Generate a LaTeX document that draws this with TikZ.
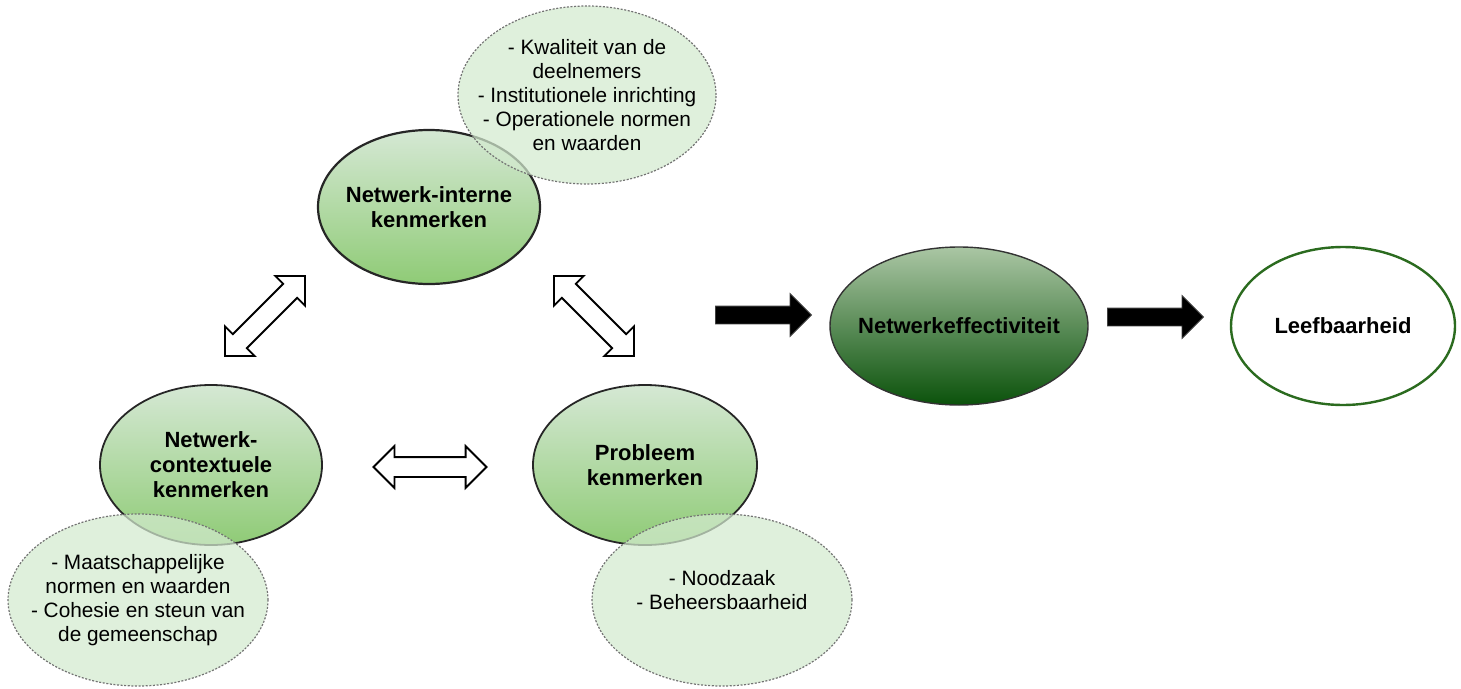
\documentclass[tikz,border=0pt]{standalone}
\usepackage{fontspec}
\setmainfont{Liberation Sans}
\usetikzlibrary{shapes.geometric,shapes.arrows}
\definecolor{kentop}{HTML}{D5E8D4}
\definecolor{kenbot}{HTML}{8FCB76}
\definecolor{efftop}{HTML}{AAC6A4}
\definecolor{effbot}{HTML}{0B520B}
\definecolor{leefline}{HTML}{2B6B1F}
\definecolor{detfill}{HTML}{D3EACF}

\begin{document}
\begin{tikzpicture}
    [
      x=1pt, y=-1pt,
      kenmerk/.style={ellipse, draw=black!85, line width=1.8pt, top color=kentop, bottom color=kenbot, inner sep=0pt},
      detail/.style={ellipse, draw=black!55, dash pattern=on 2pt off 1.6pt, line width=1.2pt, fill=detfill, fill opacity=0.72, inner sep=0pt, minimum width=260, minimum height=172},
      bold/.style={font=\fontsize{22}{25}\selectfont\bfseries, align=center, text opacity=1},
      plain/.style={font=\fontsize{20.8}{24}\selectfont, align=center, text opacity=1},
      hollow/.style={double arrow, draw=black, line width=1.8pt, fill=white, inner sep=9pt, double arrow head extend=11pt, minimum height=113pt},
      solid/.style={single arrow, draw=black!75, line width=0.8pt, fill=black, inner sep=8.5pt, single arrow head extend=12.5pt, minimum height=96pt}
    ]
    \useasboundingbox (0,0) rectangle (1461,688);

    \node (intern) [kenmerk, line width=2.2pt, minimum width=222, minimum height=154, label={[bold]center:Netwerk-interne\\kenmerken}] at (429,207) {};
    \node (context) [kenmerk, minimum width=222, minimum height=160, label={[bold]center:Netwerk-\\contextuele\\kenmerken}] at (211,465) {};
    \node (probleem) [kenmerk, minimum width=224, minimum height=160, label={[bold]center:Probleem\\kenmerken}] at (645,465) {};
    \node (effect) [ellipse, draw=black!80, line width=1.4pt, top color=efftop, bottom color=effbot, inner sep=0pt, minimum width=258, minimum height=158, label={[bold]center:Netwerkeffectiviteit}] at (959,326) {};
    \node (leef) [ellipse, draw=leefline, line width=2.4pt, fill=white, inner sep=0pt, minimum width=224, minimum height=158, label={[bold]center:Leefbaarheid}] at (1343,326) {};

    \node (intern-det) [detail, minimum width=258, minimum height=178, label={[plain]center:- Kwaliteit van de\\deelnemers\\- Institutionele inrichting\\- Operationele normen\\en waarden}] at (587,95) {};
    \node (context-det) [detail, label={[plain]center:- Maatschappelijke\\normen en waarden\\- Cohesie en steun van\\de gemeenschap}] at (138,600) {};
    \node (probleem-det) [detail, label={[plain, yshift=10pt]center:- Noodzaak\\- Beheersbaarheid}] at (722,600) {};

    \node (arr-ic) [hollow, rotate=45] at (265,316) {};
    \node (arr-ip) [hollow, rotate=-45] at (594,316) {};
    \node (arr-cp) [hollow] at (430,467) {};
    \node (arr-pe) [solid] at (759,315) {};
    \node (arr-el) [solid] at (1151,317) {};
  \end{tikzpicture}
\end{document}
